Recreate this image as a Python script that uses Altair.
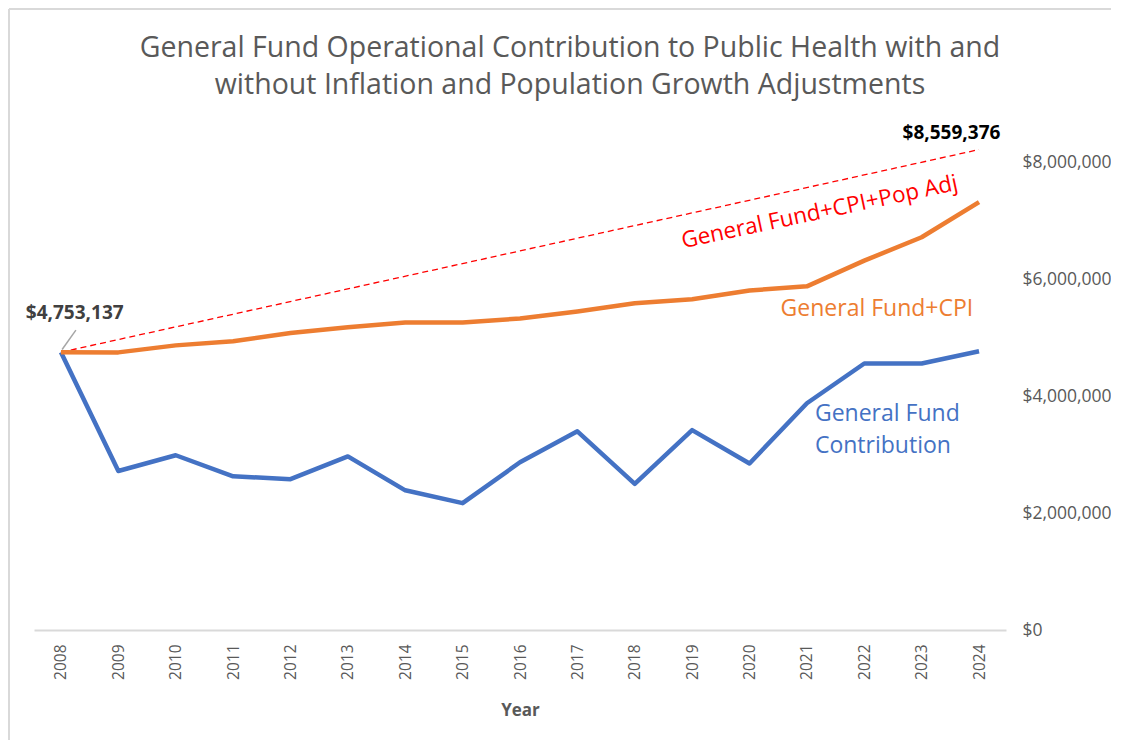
import altair as alt
import pandas as pd

years = list(range(2008, 2025))
general_fund = [4753137, 2720000, 2990000, 2630000, 2580000, 2970000, 2390000, 2170000,
                2870000, 3400000, 2500000, 3420000, 2850000, 3880000, 4560000, 4560000, 4770000]
gf_cpi = [4753137, 4750000, 4870000, 4940000, 5080000, 5180000, 5260000, 5260000,
          5330000, 5450000, 5590000, 5660000, 5810000, 5880000, 6320000, 6720000, 7320000]
pop_adj_years = [2008, 2024]
pop_adj_values = [4753137, 8220000]

FONT = "Open Sans"
BLUE = "#4472C4"
ORANGE = "#ED7D31"

df = pd.DataFrame({"Year": years * 2,
                   "Value": general_fund + gf_cpi,
                   "Series": ["General Fund Contribution"] * len(years) + ["General Fund+CPI"] * len(years)})
df_pop = pd.DataFrame({"Year": pop_adj_years, "Value": pop_adj_values})

x_scale = alt.Scale(domain=[2007.53, 2024.47], nice=False, zero=False)
y_scale = alt.Scale(domain=[0, 9000000], nice=False)

x_axis = alt.Axis(values=years, format="d", labelAngle=270, labelAlign="right", labelBaseline="middle",
                  labelFont=FONT, labelFontSize=15.5, labelColor="#595959", labelPadding=14,
                  ticks=False, grid=False, domainColor="#d9d9d9", domainWidth=2,
                  title="Year", titleFont=FONT, titleFontSize=17, titleFontWeight="bold",
                  titleColor="#595959", titlePadding=23)
y_axis = alt.Axis(orient="right", values=[0, 2000000, 4000000, 6000000, 8000000], format="$,.0f",
                  labelFont=FONT, labelFontSize=17.5, labelColor="#595959", labelPadding=16,
                  ticks=False, domain=False, grid=False, title=None)

X = alt.X("Year:Q", scale=x_scale, axis=x_axis)
Y = alt.Y("Value:Q", scale=y_scale, axis=y_axis)

lines = alt.Chart(df).mark_line(strokeWidth=4.5, strokeJoin="round").encode(
    x=X, y=Y,
    color=alt.Color("Series:N", scale=alt.Scale(domain=["General Fund Contribution", "General Fund+CPI"],
                                                range=[BLUE, ORANGE]), legend=None))

dashed = alt.Chart(df_pop).mark_line(color="#FF0000", strokeWidth=1.3, strokeDash=[6, 4]).encode(
    x=alt.X("Year:Q", scale=x_scale), y=alt.Y("Value:Q", scale=y_scale))

# leader line for start label
leader_x = [2008.02]
leader_x2 = [2008.26]
leader_y = [4800000]
leader_y2 = [5130000]
df_leader = pd.DataFrame({"x": leader_x, "x2": leader_x2, "y": leader_y, "y2": leader_y2})
leader = alt.Chart(df_leader).mark_rule(color="#A6A6A6", strokeWidth=1.5).encode(
    x=alt.X("x:Q", scale=x_scale), x2="x2:Q", y=alt.Y("y:Q", scale=y_scale), y2="y2:Q")

# chart-area frame (top and left edges, as in the reference)
frame_v = alt.Chart(pd.DataFrame({"k": [0]})).mark_rule(color="#d9d9d9", strokeWidth=2).encode(
    x=alt.value(-25), y=alt.value(-95), y2=alt.value(700))
frame_h = alt.Chart(pd.DataFrame({"k": [0]})).mark_rule(color="#d9d9d9", strokeWidth=2).encode(
    x=alt.value(-25), x2=alt.value(1200), y=alt.value(-95))

def label(text, year, value, color, size, weight="normal", angle=0, align="center"):
    d = pd.DataFrame({"Year": [year], "Value": [value], "t": [text]})
    kw = dict(color=color, fontSize=size, font=FONT, fontWeight=weight, align=align, baseline="middle")
    if angle:
        kw["angle"] = angle
    return alt.Chart(d).mark_text(**kw).encode(
        x=alt.X("Year:Q", scale=x_scale), y=alt.Y("Value:Q", scale=y_scale), text="t:N")

labels = [
    label("$4,753,137", 2008.24, 5420000, "#404040", 19, "bold"),
    label("$8,559,376", 2023.52, 8500000, "#000000", 19, "bold"),
    label("General Fund+CPI+Pop Adj", 2021.22, 7150000, "#FF0000", 22.5, angle=348),
    label("General Fund+CPI", 2022.22, 5490000, ORANGE, 23),
    label("General Fund", 2021.14, 3690000, BLUE, 23, align="left"),
    label("Contribution", 2021.14, 3150000, BLUE, 23, align="left"),
]

chart = alt.layer(frame_v, frame_h, dashed, lines, leader, *labels).properties(
    width=972, height=526,
    autosize=alt.AutoSizeParams(type="none"),
    padding={"left": 26, "top": 96, "right": 105, "bottom": 110},
    background="white",
    title=alt.TitleParams(
        text=["General Fund Operational Contribution to Public Health with and",
              "without Inflation and Population Growth Adjustments"],
        font=FONT, fontSize=28.5, fontWeight="normal", color="#595959",
        anchor="middle", frame="group", dx=50, offset=-91, lineHeight=37),
).configure_view(strokeWidth=0, stroke=None)

chart.save("out.html", embed_options={"renderer": "svg", "actions": False})
